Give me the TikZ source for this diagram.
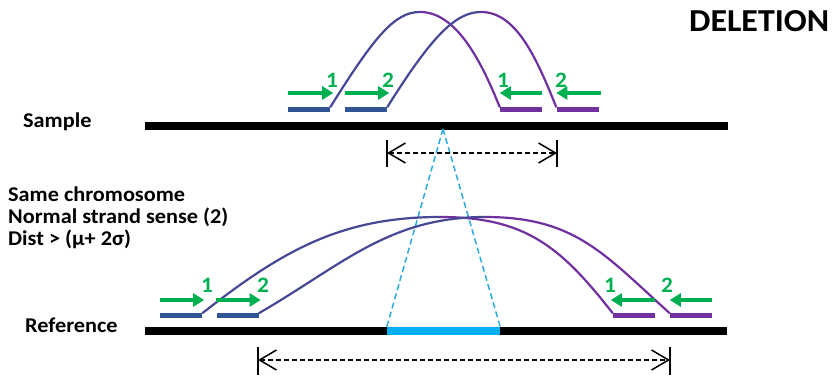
\documentclass[tikz,border=0pt]{standalone}
\usepackage{fontspec}
\setmainfont{Carlito}[FakeStretch=1.06]
\usetikzlibrary{arrows.meta}
\definecolor{rblue}{RGB}{47,85,151}
\definecolor{rpurple}{RGB}{112,48,160}
\definecolor{rarcblue}{RGB}{70,72,150}
\definecolor{rgreen}{RGB}{0,176,80}
\definecolor{rcyan}{RGB}{0,176,240}
\definecolor{rcyanl}{RGB}{45,170,225}
\begin{document}
\begin{tikzpicture}[x=1pt,y=1pt,
  bar/.style={inner sep=0pt,minimum width=42pt,minimum height=5pt},
  bbar/.style={bar,fill=rblue},
  pbar/.style={bar,fill=rpurple},
  chrom/.style={inner sep=0pt,minimum height=8pt,fill=black},
  garrow/.style={draw=rgreen,line width=3.3pt,-{Triangle[length=11pt,width=13pt]}},
  num/.style={text=rgreen,font=\fontsize{22}{22}\selectfont\bfseries,inner sep=0pt},
  lab/.style={font=\fontsize{21}{22}\selectfont\bfseries,inner sep=0pt,anchor=base west},
  arcl/.style={draw=rarcblue,line width=2.2pt},
  arcr/.style={draw=rpurple,line width=2.2pt},
  dimline/.style={line width=1.5pt,dash pattern=on 5pt off 3pt,
     {Straight Barb[length=17pt,width=20pt,line width=1.5pt]}-{Straight Barb[length=17pt,width=20pt,line width=1.5pt]}},
  dimbar/.style={line width=1.5pt},
  cyandash/.style={draw=rcyanl,line width=1.5pt,dash pattern=on 6pt off 3.5pt}
]
\useasboundingbox (0,0) rectangle (837,377);

% labels
\node[lab,font=\fontsize{32}{32}\selectfont\bfseries] (title) at (689,345) {DELETION};
\node[lab] (lsample) at (23,249) {Sample};
\node[lab] (lref) at (25,44) {Reference};
\node[lab] (c1) at (8,175) {Same chromosome};
\node[lab] (c2) at (8,153) {Normal strand sense (2)};
\node[lab] (c3) at (8,131) {Dist > (μ+ 2σ)};

% chromosomes
\node[chrom,minimum width=583pt] (schr) at (436.5,251) {};
\node[chrom,minimum width=582pt] (rchr) at (436,46) {};
\node[chrom,fill=rcyan,minimum width=113pt] (del) at (443.5,46) {};

% cyan projection
\coordinate (apex) at (443,248);
\draw[cyandash] (apex) -- (del.north west);
\draw[cyandash] (apex) -- (del.north east);

% sample reads
\node[bbar] (sb1) at (309,267) {};
\node[bbar] (sb2) at (366,267) {};
\node[pbar] (sp1) at (521,267) {};
\node[pbar] (sp2) at (577.5,267) {};
\coordinate (sa1) at (420,365);
\coordinate (sa2) at (481,365);
\draw[arcl] (sb1.north east) .. controls +(45,72) and +(-25,0) .. (sa1);
\draw[arcr] (sa1) .. controls +(35,0) and +(-20,50) .. (sp1.north west);
\draw[arcl] (sb2.north east) .. controls +(45,72) and +(-25,0) .. (sa2);
\draw[arcr] (sa2) .. controls +(35,0) and +(-20,50) .. (sp2.north west);

\draw[garrow] ([yshift=17pt]sb1.west) -- ([yshift=17pt,xshift=3pt]sb1.east);
\draw[garrow] ([yshift=17pt]sb2.west) -- ([yshift=17pt,xshift=2pt]sb2.east);
\draw[garrow] ([yshift=17pt]sp1.east) -- ([yshift=17pt]sp1.west);
\draw[garrow] ([yshift=17pt,xshift=2pt]sp2.east) -- ([yshift=17pt]sp2.west);
\node[num] (sn1) at (332,297) {1};
\node[num] (sn2) at (388,297) {2};
\node[num] (sn3) at (503,297) {1};
\node[num] (sn4) at (561,297) {2};

% sample distance
\coordinate (sl) at (387,224);
\coordinate (sr) at (557,224);
\draw[dimline] (sl) -- (sr);
\draw[dimbar] ([yshift=13pt]sl) -- ([yshift=-14pt]sl);
\draw[dimbar] ([yshift=13pt]sr) -- ([yshift=-14pt]sr);

% reference reads
\node[bbar] (rb1) at (181,61) {};
\node[bbar] (rb2) at (237.5,61) {};
\node[pbar] (rp1) at (634,61) {};
\node[pbar] (rp2) at (691,61) {};
\coordinate (ra1) at (440,160);
\coordinate (ra2) at (485,160);
\draw[arcl] (rb1.north east) to[out=38,in=180] (ra1);
\draw[arcr] (ra1) to[out=0,in=128,looseness=1.1] (rp1.north west);
\draw[arcl] (rb2.north east) to[out=30,in=180] (ra2);
\draw[arcr] (ra2) to[out=0,in=138,looseness=1.1] (rp2.north west);

\draw[garrow] ([yshift=16pt]rb1.west) -- ([yshift=16pt,xshift=2pt]rb1.east);
\draw[garrow] ([yshift=16pt]rb2.west) -- ([yshift=16pt,xshift=2pt]rb2.east);
\draw[garrow] ([yshift=16pt]rp1.east) -- ([yshift=16pt,xshift=-2pt]rp1.west);
\draw[garrow] ([yshift=16pt]rp2.east) -- ([yshift=16pt]rp2.west);
\node[num] (rn1) at (207,92) {1};
\node[num] (rn2) at (263,92) {2};
\node[num] (rn3) at (610,92) {1};
\node[num] (rn4) at (667,92) {2};

% reference distance
\coordinate (rl) at (258,17);
\coordinate (rr) at (670,17);
\draw[dimline] (rl) -- (rr);
\draw[dimbar] ([yshift=13pt]rl) -- ([yshift=-15pt]rl);
\draw[dimbar] ([yshift=13pt]rr) -- ([yshift=-15pt]rr);
\end{tikzpicture}
\end{document}
